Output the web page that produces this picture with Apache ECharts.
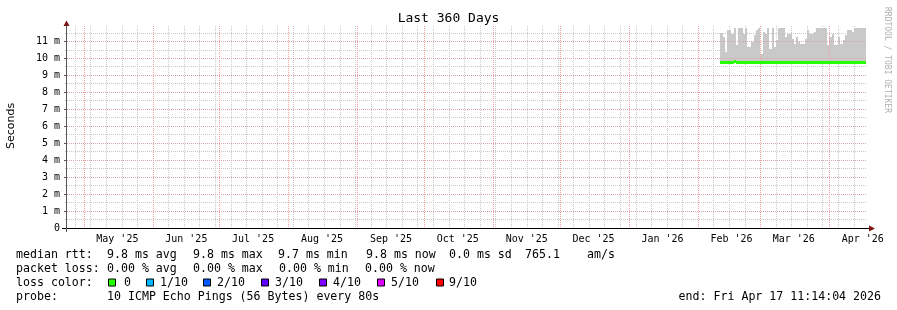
<!DOCTYPE html>
<html><head><meta charset="utf-8">
<script src="https://cdn.jsdelivr.net/npm/echarts@6/dist/echarts.min.js"></script>
<style>html,body{margin:0;padding:0;background:#fff}#c{width:897px;height:310px}</style>
</head><body><div id="c"></div>
<script>
// ---------- data ----------
const TITLE = 'Last 360 Days';
const Y_NAME = 'Seconds';
const WATERMARK = 'RRDTOOL / TOBI OETIKER';
const X_START = '2025-04-22 11:14:04';
const X_END = '2026-04-17 11:14:04';
const Y_MAX = 11.9;
const FIRST_WEEK_LINE = '2025-04-27';
const monthStarts = ['2025-05-01','2025-06-01','2025-07-01','2025-08-01','2025-09-01','2025-10-01',
  '2025-11-01','2025-12-01','2026-01-01','2026-02-01','2026-03-01','2026-04-01'];
const monthLabelDates = ['2025-05-16','2025-06-16','2025-07-16','2025-08-16','2025-09-16','2025-10-16',
  '2025-11-16','2025-12-16','2026-01-16','2026-02-16','2026-03-16','2026-04-16'];
const monthNames = ['Jan','Feb','Mar','Apr','May','Jun','Jul','Aug','Sep','Oct','Nov','Dec'];
const yMajorTicks = [0,1,2,3,4,5,6,7,8,9,10,11];
const yMinorTicks = [0.5,1.5,2.5,3.5,4.5,5.5,6.5,7.5,8.5,9.5,10.5,11.5];

const smokeDays = [
 '2026-02-11','2026-02-12','2026-02-13','2026-02-14','2026-02-15','2026-02-16','2026-02-17','2026-02-18',
 '2026-02-19','2026-02-20','2026-02-21','2026-02-22','2026-02-23','2026-02-24','2026-02-25','2026-02-26',
 '2026-02-27','2026-02-28',
 '2026-03-01','2026-03-02','2026-03-03','2026-03-04','2026-03-05','2026-03-06','2026-03-07','2026-03-08',
 '2026-03-09','2026-03-10','2026-03-11','2026-03-12','2026-03-13','2026-03-14','2026-03-15','2026-03-16',
 '2026-03-17','2026-03-18','2026-03-19','2026-03-20','2026-03-21','2026-03-22','2026-03-23','2026-03-24',
 '2026-03-25','2026-03-26','2026-03-27','2026-03-28','2026-03-29','2026-03-30','2026-03-31',
 '2026-04-01','2026-04-02','2026-04-03','2026-04-04','2026-04-05','2026-04-06','2026-04-07','2026-04-08',
 '2026-04-09','2026-04-10','2026-04-11','2026-04-12','2026-04-13','2026-04-14','2026-04-15','2026-04-16',
 '2026-04-17'];
const smokeTop = [
 11.50,11.25,10.37,11.65,11.65,11.45,11.76,10.76,11.76,11.76,11.45,11.76,10.67,10.67,10.96,11.35,
 11.65,11.76,10.27,11.55,11.45,11.76,10.57,11.76,10.67,11.06,11.76,11.76,11.76,11.25,11.45,11.45,
 11.16,10.86,11.25,10.96,10.86,10.86,11.16,11.65,11.45,11.45,11.55,11.76,11.76,11.76,11.76,11.76,
 10.76,11.25,11.45,10.76,10.76,11.25,10.86,11.06,11.35,11.65,11.65,11.55,11.76,11.76,11.76,11.76,
 11.76,11.76];
const smokeFloor = 9.72;
const medianRtt = [
 9.76,9.77,9.76,9.76,9.77,9.76,9.78,9.76,9.76,9.75,9.76,9.77,9.76,9.76,9.76,9.75,
 9.76,9.77,9.76,9.76,9.76,9.75,9.76,9.76,9.77,9.76,9.76,9.76,9.75,9.76,9.76,9.76,
 9.77,9.76,9.75,9.76,9.76,9.76,9.76,9.77,9.76,9.76,9.75,9.76,9.76,9.76,9.76,9.75,
 9.76,9.76,9.77,9.76,9.76,9.75,9.76,9.76,9.76,9.76,9.75,9.76,9.76,9.77,9.76,9.76,
 9.75,9.76];

const legendRtt = ['median rtt:','9.8 ms avg','9.8 ms max','9.7 ms min','9.8 ms now','0.0 ms sd','765.1','am/s'];
const legendLoss = ['packet loss:','0.00 % avg','0.00 % max','0.00 % min','0.00 % now'];
const lossTitle = 'loss color:';
const lossLabels = ['0','1/10','2/10','3/10','4/10','5/10','9/10'];
const lossColors = ['#26ff00','#00b8ff','#0059ff','#5e00ff','#7e00ff','#dd00ff','#ff0000'];
const probeLine = ['probe:','10 ICMP Echo Pings (56 Bytes) every 80s'];
const endText = 'end: Fri Apr 17 11:14:04 2026';

// ---------- layout ----------
const rttX = [16,107,193,278,366,449,525,587];
const lossX = [16,107,193,279,365];
const boxX = [108,146,203,261,319,377,436];
const boxLabelX = [124,160,217,275,333,391,449];
const rowY = [254.5,268.5,282.5,296.5];
const MONO = 'DejaVu Sans Mono';
const LEG_FONT = 11.6;

function ts(s){
  const m = s.match(/(\d+)-(\d+)-(\d+)(?:[ T](\d+):(\d+)(?::(\d+))?)?/);
  return new Date(+m[1], +m[2]-1, +m[3], +(m[4]||0), +(m[5]||0), +(m[6]||0)).getTime();
}
const xMin = ts(X_START), xMax = ts(X_END);
const weekTicks = [];
{ const d0 = new Date(ts(FIRST_WEEK_LINE));
  for (let k = 0; ; k++) { const t = new Date(d0.getFullYear(), d0.getMonth(), d0.getDate() + 7*k).getTime(); if (t >= xMax) break; weekTicks.push(t); } }

const smokeData = smokeDays.map((d,i) => [ts(d), i+1 < smokeDays.length ? ts(smokeDays[i+1]) : xMax, smokeFloor, smokeTop[i]]);
const medData = smokeDays.map((d,i) => [ts(d), i+1 < smokeDays.length ? ts(smokeDays[i+1]) : xMax, medianRtt[i]]);

const chart = echarts.init(document.getElementById('c'), null, {renderer:'canvas'});

const graphics = [];
function txt(x, y, s, extra){ graphics.push(Object.assign({type:'text', x, y, z:20, style:{text:s, fill:'#000', font: LEG_FONT+'px "'+MONO+'"', textVerticalAlign:'middle', textAlign:'left'}}, extra||{})); }
legendRtt.forEach((s,i)=>txt(rttX[i], rowY[0], s));
legendLoss.forEach((s,i)=>txt(lossX[i], rowY[1], s));
txt(16, rowY[2], lossTitle);
lossLabels.forEach((s,i)=>{
  graphics.push({type:'rect', z:20, shape:{x:boxX[i]+0.5, y:rowY[2]-3.5, width:7, height:7}, style:{fill:lossColors[i], stroke:'#000', lineWidth:1}});
  txt(boxLabelX[i], rowY[2], s);
});
txt(16, rowY[3], probeLine[0]);
txt(107, rowY[3], probeLine[1]);
graphics.push({type:'text', x:881, y:rowY[3], z:20, style:{text:endText, fill:'#000', font: LEG_FONT+'px "'+MONO+'"', textVerticalAlign:'middle', textAlign:'right'}});
graphics.push({type:'text', x:448.5, y:19, z:20, style:{text:TITLE, fill:'#000', font:'13px "'+MONO+'"', textAlign:'center', textVerticalAlign:'middle'}});
graphics.push({type:'text', x:11, y:126, rotation:Math.PI/2, z:20, style:{text:Y_NAME, fill:'#000', font:'11px "DejaVu Sans"', textAlign:'center', textVerticalAlign:'middle'}});
graphics.push({type:'text', x:887, y:60, rotation:-Math.PI/2, z:20, style:{text:WATERMARK, fill:'#b0b0b0', font:'8px "'+MONO+'"', textAlign:'center', textVerticalAlign:'middle'}});
graphics.push({type:'line', z:15, shape:{x1:62, y1:228.5, x2:869, y2:228.5}, style:{stroke:'#000', lineWidth:1}});
graphics.push({type:'line', z:15, shape:{x1:66.5, y1:25, x2:66.5, y2:232}, style:{stroke:'#555', lineWidth:1}});
graphics.push({type:'polygon', z:16, shape:{points:[[66.5,20.5],[63.5,26],[69.5,26]]}, style:{fill:'#7f1414'}});
graphics.push({type:'polygon', z:16, shape:{points:[[875,228.5],[869,225.5],[869,231.5]]}, style:{fill:'#7f1414'}});

const axisFont = {fontFamily: MONO, fontSize: 10, color: '#000'};

chart.setOption({
  animation: false,
  backgroundColor: '#fff',
  grid: {left: 65, right: 31, top: 26, bottom: 82, containLabel: false},
  xAxis: [
    {type:'value', min:xMin, max:xMax, z:3, position:'bottom', scale:true,
     axisLine:{show:false}, axisTick:{show:false, customValues: monthStarts.map(ts)},
     axisLabel:Object.assign({customValues: monthLabelDates.map(ts), margin:6,
       formatter: v => { const d = new Date(v); return monthNames[d.getMonth()] + " '" + String(d.getFullYear()).slice(2); }}, axisFont),
     splitLine:{show:true, lineStyle:{color:'#f2a0a0', width:1, type:[1,1]}}},
    {type:'value', min:xMin, max:xMax, z:2, position:'top', scale:true,
     axisLine:{show:false}, axisTick:{show:false, customValues: weekTicks}, axisLabel:{show:false},
     splitLine:{show:true, lineStyle:{color:'#c8c8c8', width:1, type:[1,1]}}}
  ],
  yAxis: [
    {type:'value', min:0, max:Y_MAX, z:3, position:'left', offset:-2,
     axisLine:{show:false}, axisTick:{show:true, length:3, customValues: yMajorTicks, lineStyle:{color:'#555'}},
     axisLabel:Object.assign({customValues: yMajorTicks, margin:7, formatter: v => v === 0 ? '0' : v + ' m'}, axisFont),
     splitLine:{show:true, lineStyle:{color:'#d8a6a6', width:1, type:[1,1]}}},
    {type:'value', min:0, max:Y_MAX, z:2, position:'left',
     axisLine:{show:false}, axisTick:{show:false, customValues: yMinorTicks}, axisLabel:{show:false},
     splitLine:{show:true, lineStyle:{color:'#c8c8c8', width:1, type:[1,1]}}}
  ],
  series: [
    {type:'custom', name:'smoke', z:1, xAxisIndex:0, yAxisIndex:0, data: smokeData, encode:{x:[0,1], y:[2,3]},
     renderItem: (params, api) => {
       const p0 = api.coord([api.value(0), api.value(3)]);
       const p1 = api.coord([api.value(1), api.value(2)]);
       const x0 = Math.round(p0[0]), x1 = Math.round(p1[0]);
       const y0 = Math.round(p0[1]), y1 = Math.round(p1[1]);
       return {type:'rect', shape:{x:x0, y:y0, width:x1-x0, height:y1-y0}, style:{fill:'#c9c9c9'}};
     }},
    {type:'custom', name:'median rtt', z:5, xAxisIndex:0, yAxisIndex:0, data: medData, encode:{x:[0,1], y:2},
     renderItem: (params, api) => {
       const p0 = api.coord([api.value(0), api.value(2)]);
       const p1 = api.coord([api.value(1), api.value(2)]);
       const x0 = Math.round(p0[0]), x1 = Math.round(p1[0]);
       return {type:'rect', shape:{x:x0, y:Math.round(p0[1]-1.5), width:x1-x0, height:3}, style:{fill:'#26ff00'}};
     }}
  ],
  graphic: graphics
});
</script></body></html>
